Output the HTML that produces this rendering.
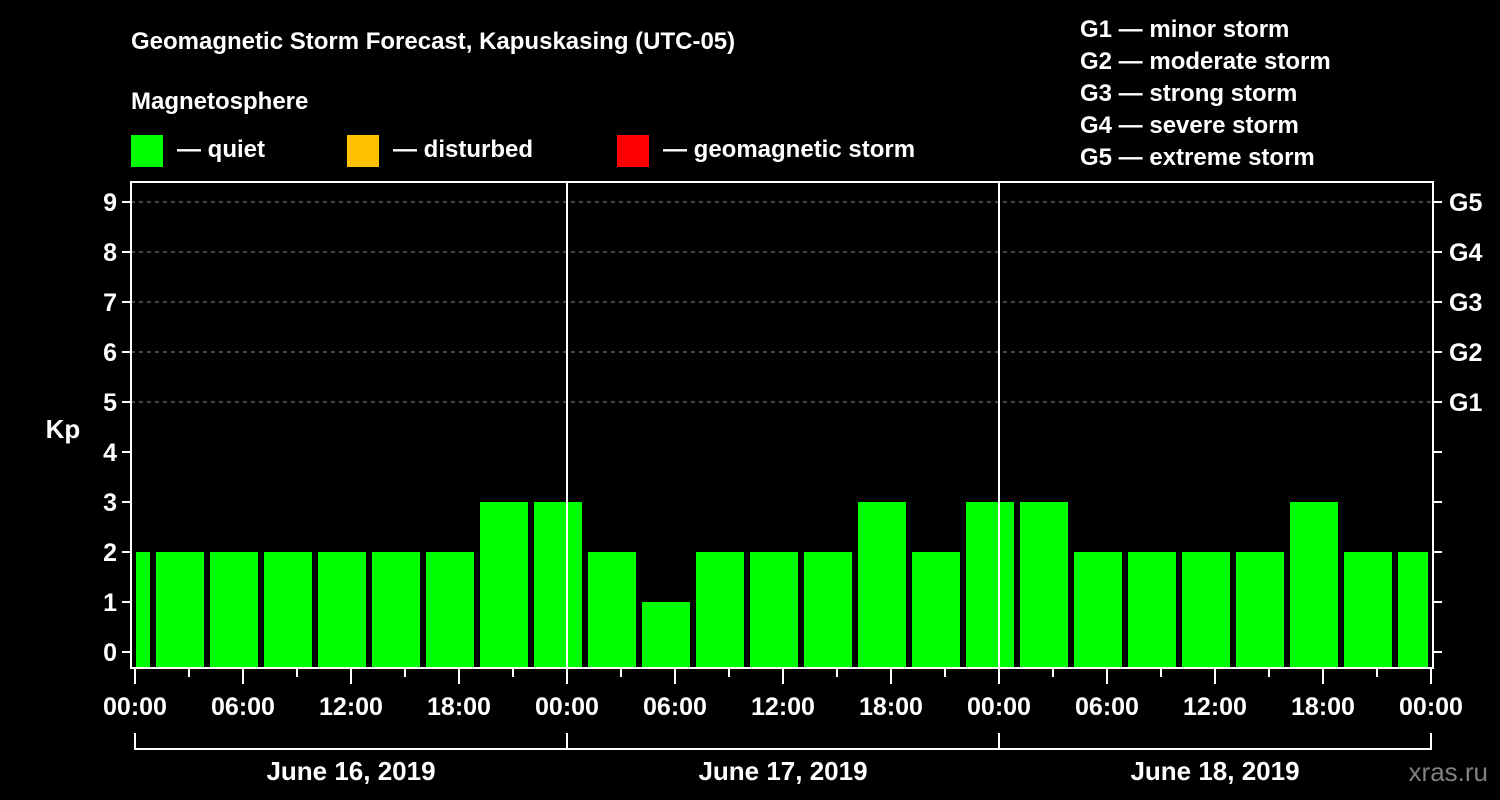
<!DOCTYPE html>
<html><head><meta charset="utf-8">
<style>
html,body{margin:0;padding:0;background:#000;}
svg{display:block;font-family:"Liberation Sans",Arial,sans-serif;font-weight:bold;}
</style></head>
<body>
<svg id="chart" width="1500" height="800" viewBox="0 0 1500 800">
  <rect x="0" y="0" width="1500" height="800" fill="#000"/>
  <text x="131" y="49" fill="#fff" font-size="24">Geomagnetic Storm Forecast, Kapuskasing (UTC-05)</text>
  <text x="131" y="109" fill="#fff" font-size="24">Magnetosphere</text>
  <g>
    <rect x="131" y="135" width="32" height="32" fill="#00ff00"/>
    <text x="177" y="157" fill="#fff" font-size="24">— quiet</text>
  </g>
  <g>
    <rect x="347" y="135" width="32" height="32" fill="#ffc000"/>
    <text x="393" y="157" fill="#fff" font-size="24">— disturbed</text>
  </g>
  <g>
    <rect x="617" y="135" width="32" height="32" fill="#ff0000"/>
    <text x="663" y="157" fill="#fff" font-size="24">— geomagnetic storm</text>
  </g>
  <g fill="#fff" font-size="24">
    <text x="1080" y="37">G1 — minor storm</text>
    <text x="1080" y="69">G2 — moderate storm</text>
    <text x="1080" y="101">G3 — strong storm</text>
    <text x="1080" y="133">G4 — severe storm</text>
    <text x="1080" y="165">G5 — extreme storm</text>
  </g>
  <text x="63" y="438" fill="#fff" font-size="26" text-anchor="middle">Kp</text>
  <text x="1488" y="781" fill="#808080" font-size="26" text-anchor="end" font-weight="normal">xras.ru</text>
  <g id="plot"></g>
</svg>
<script>
const kpValues = [2,2,2,2,2,2,2,3,3,2,1,2,2,2,3,2,3,3,2,2,2,2,3,2,2];
const barStartHours = [-2,1,4,7,10,13,16,19,22,25,28,31,34,37,40,43,46,49,52,55,58,61,64,67,70];
const yTicks = [0,1,2,3,4,5,6,7,8,9];
const gLabels = ["","","","","","G1","G2","G3","G4","G5"];
const xTickLabels = ["00:00","06:00","12:00","18:00","00:00","06:00","12:00","18:00","00:00","06:00","12:00","18:00","00:00"];
const dayLabels = ["June 16, 2019","June 17, 2019","June 18, 2019"];

const NS = "http://www.w3.org/2000/svg";
const plot = document.getElementById("plot");
const L = 131, R = 1433, T = 182, B = 668;
const x0 = 135, pxPerHour = 18, totalHours = 72;
const xScale = h => x0 + h * pxPerHour;
const yScale = v => 652 - v * 50;
function mk(tag, attrs){ const e = document.createElementNS(NS, tag); for (const k in attrs) e.setAttribute(k, attrs[k]); plot.appendChild(e); return e; }

// grid lines
yTicks.forEach(v => {
  if (v >= 5) {
    const g = mk("line", {x1:L, x2:R, y1:yScale(v), y2:yScale(v), stroke:"#888", "stroke-width":1, "stroke-dasharray":"4,4"});
    
    
  }
});

// bars
kpValues.forEach((v, i) => {
  let xa = xScale(barStartHours[i]) + 3, xb = xScale(barStartHours[i] + 3) - 3;
  xa = Math.max(xa, L + 5); xb = Math.min(xb, R - 5);
  const color = v >= 5 ? "#ff0000" : (v >= 4 ? "#ffc000" : "#00ff00");
  const r = mk("rect", {x:xa, y:yScale(v), width:xb - xa, height:B - yScale(v), fill:color});
  
  
});

// day separators
[24, 48].forEach(h => {
  const l = mk("line", {x1:xScale(h), x2:xScale(h), y1:T, y2:B, stroke:"#fff", "stroke-width":2});
  
  
});

// frame
const fr = mk("rect", {x:L, y:T, width:R - L, height:B - T, fill:"none", stroke:"#fff", "stroke-width":2});



// y ticks + labels
yTicks.forEach((v, i) => {
  const y = yScale(v);
  const t1 = mk("line", {x1:L - 9, x2:L, y1:y, y2:y, stroke:"#fff", "stroke-width":2});
  
  
  const t2 = mk("line", {x1:R, x2:R + 9, y1:y, y2:y, stroke:"#fff", "stroke-width":2});
  
  
  const tx = mk("text", {x:L - 14, y:y + 9, fill:"#fff", "font-size":25, "text-anchor":"end"});
  tx.textContent = String(v);
  
  
  if (gLabels[i]) {
    const g = mk("text", {x:R + 16, y:y + 9, fill:"#fff", "font-size":25});
    g.textContent = gLabels[i];
    
    
  }
});

// x ticks
for (let h = 0; h <= totalHours; h += 3) {
  const major = h % 6 === 0;
  const tk = mk("line", {x1:xScale(h), x2:xScale(h), y1:B, y2:B + (major ? 16 : 9), stroke:"#fff", "stroke-width":2});
  
  
}
xTickLabels.forEach((s, i) => {
  const t = mk("text", {x:xScale(i * 6), y:715, fill:"#fff", "font-size":25, "text-anchor":"middle"});
  t.textContent = s;
  
  
});

// date brackets
const br = mk("line", {x1:xScale(0), x2:xScale(totalHours), y1:749, y2:749, stroke:"#fff", "stroke-width":2});


[0, 24, 48, 72].forEach(h => {
  const v = mk("line", {x1:xScale(h), x2:xScale(h), y1:733, y2:750, stroke:"#fff", "stroke-width":2});
  
  
});
dayLabels.forEach((s, i) => {
  const t = mk("text", {x:xScale(i * 24 + 12), y:780, fill:"#fff", "font-size":26, "text-anchor":"middle"});
  t.textContent = s;
  
  
});
</script>
</body></html>
